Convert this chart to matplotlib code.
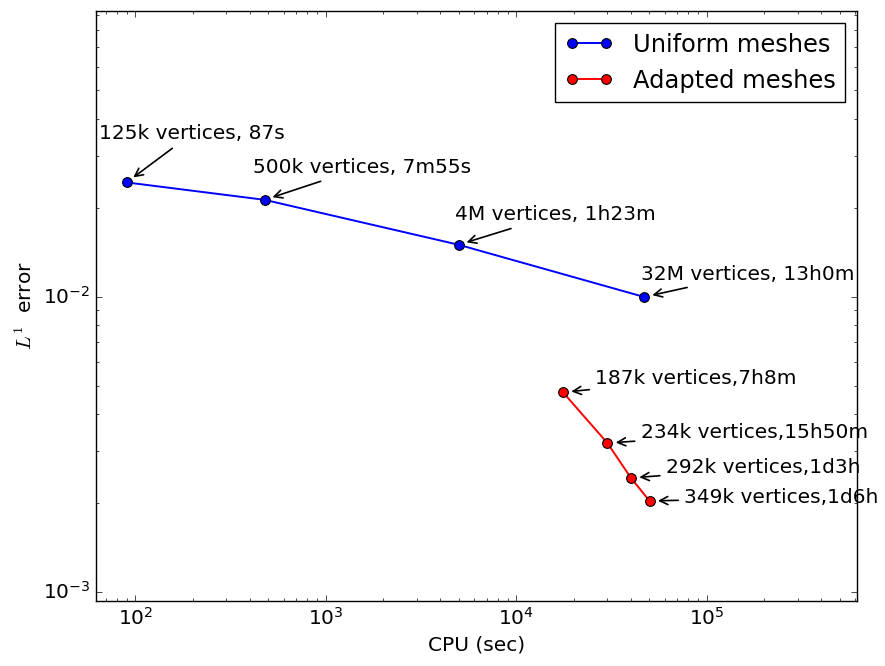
import numpy as np
import matplotlib
matplotlib.use("Agg")
import matplotlib.pyplot as plt

plt.style.use("classic")
plt.rcParams["font.size"] = 14.5
plt.rcParams["mathtext.fontset"] = "cm"

# uniform meshes: CPU time (s) and L1 error
uni_cpu = [90, 477, 4980, 46900]
uni_err = [0.0244, 0.0213, 0.0150, 0.00998]
uni_lbl = ["125k vertices, 87s", "500k vertices, 7m55s",
           "4M vertices, 1h23m", "32M vertices, 13h0m"]

# adapted meshes
ada_cpu = [17600, 30100, 40000, 50100]
ada_err = [0.00474, 0.00319, 0.00243, 0.00203]
ada_lbl = ["187k vertices,7h8m", "234k vertices,15h50m",
           "292k vertices,1d3h", "349k vertices,1d6h"]

# text offsets (points) from each point
uni_off = [(-20, 31), (-8.4, 19.2), (-2.9, 17.5), (-2.2, 12.5)]
ada_off = [(23.3, 6.0), (24, 3.4), (25.2, 3.4), (25, -1.7)]

fig = plt.figure(figsize=(8.85, 6.66), dpi=100)
ax = fig.add_subplot(111)
fig.subplots_adjust(left=0.1085, right=0.9684, bottom=0.0976, top=0.9835)

ax.loglog(uni_cpu, uni_err, "bo-", ms=7, lw=1.4, mew=0.8, label="Uniform meshes")
ax.loglog(ada_cpu, ada_err, "ro-", ms=7, lw=1.4, mew=0.8, label="Adapted meshes")

arrow = dict(arrowstyle="->", color="k", lw=1.2, shrinkB=6)
for x, y, s, o in zip(uni_cpu, uni_err, uni_lbl, uni_off):
    ax.annotate(s, (x, y), xytext=o, textcoords="offset points",
                ha="left", va="baseline", fontsize=14.5, arrowprops=arrow)
for x, y, s, o in zip(ada_cpu, ada_err, ada_lbl, ada_off):
    ax.annotate(s, (x, y), xytext=o, textcoords="offset points",
                ha="left", va="baseline", fontsize=14.5, arrowprops=arrow)

ax.set_xlim(62.2, 6.15e5)
ax.set_ylim(9.3e-4, 0.093)
ax.set_xlabel("CPU (sec)")
ax.set_ylabel(r"$L^1$  error")
ax.legend(loc="upper right", numpoints=2)

fig.savefig("out.png", dpi=100)
